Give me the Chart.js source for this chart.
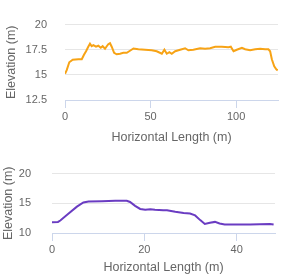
<!DOCTYPE html>
<html>
<head>
<meta charset="utf-8">
<script src="https://cdn.jsdelivr.net/npm/chart.js@4"></script>
<style>
  html, body { margin: 0; padding: 0; background: #fff; }
  .box { position: relative; width: 285px; }
  #topBox { height: 146px; }
  #bottomBox { height: 134px; }
</style>
</head>
<body>
<div class="box" id="topBox"><canvas id="topChart"></canvas></div>
<div class="box" id="bottomBox"><canvas id="bottomChart"></canvas></div>
<script>
// profile 1 (orange)
const topX = [0, 1, 2.5, 4.5, 7.8, 9.8, 11.1, 12.3, 13.6, 14.6, 15.6, 16.6, 18.1, 19.5, 20.9, 22, 23.4, 24.4, 25.3, 26.3, 27.3, 28.7, 30.2, 32.2, 34.1, 36.1, 38, 40, 42.9, 46.8, 50.7, 53.6, 56.6, 58.1, 59.5, 61, 62.4, 64.4, 67.3, 70.2, 72.1, 75, 79, 81.9, 84.8, 87.8, 91.7, 95.5, 96.9, 98.5, 100.4, 103.4, 105.3, 108.2, 111.2, 114.1, 117, 118.9, 119.9, 120.9, 122.3, 123.5, 124.3];
const topY = [15.1, 15.47, 16.25, 16.5, 16.55, 16.55, 17.0, 17.35, 17.8, 18.1, 17.85, 17.95, 17.8, 17.9, 17.7, 17.85, 17.6, 17.85, 18.05, 18.15, 17.8, 17.2, 17.05, 17.1, 17.2, 17.2, 17.4, 17.62, 17.55, 17.5, 17.45, 17.35, 17.1, 17.5, 17.1, 17.25, 17.1, 17.35, 17.5, 17.65, 17.45, 17.5, 17.65, 17.6, 17.65, 17.8, 17.8, 17.75, 17.8, 17.35, 17.5, 17.7, 17.55, 17.45, 17.55, 17.6, 17.55, 17.55, 17.35, 16.55, 15.85, 15.55, 15.45];

// profile 2 (purple)
const bottomX = [0, 1.3, 1.8, 3.6, 5.4, 6.8, 7.9, 10.8, 13.7, 16.2, 16.9, 18.0, 19.1, 20.2, 21.3, 22.3, 24.1, 24.9, 26.7, 28.5, 29.9, 31.0, 32.1, 33.1, 34.2, 35.3, 36.3, 37.4, 40, 42.9, 45, 47.2, 48];
const bottomY = [11.83, 11.87, 12.1, 13.27, 14.44, 15.13, 15.3, 15.35, 15.43, 15.43, 15.22, 14.57, 14.05, 13.92, 14.0, 13.92, 13.85, 13.83, 13.57, 13.35, 13.27, 12.96, 12.17, 11.52, 11.74, 11.87, 11.61, 11.44, 11.44, 11.44, 11.48, 11.52, 11.44];

const topTicks = { xStep: 50, yMin: 12.5, yMax: 20, yStep: 2.5 };
const bottomTicks = { xStep: 20, yMin: 10, yMax: 20, yStep: 5 };

const FONT = "'Liberation Sans', Arial, sans-serif";
const TEXT = "#666666";

const toPoints = (xs, ys) => xs.map((x, i) => ({ x: x, y: ys[i] }));

const makeChart = (el, xs, ys, color, t, lay) => {
  new Chart(el, {
    type: "line",
    data: {
      datasets: [{
        data: toPoints(xs, ys),
        borderColor: color,
        borderWidth: 2,
        pointRadius: 0,
        tension: 0,
        fill: false
      }]
    },
    options: {
      animation: false,
      responsive: true,
      maintainAspectRatio: false,
      devicePixelRatio: 1,
      layout: { padding: { top: lay.top, right: lay.right, bottom: 0, left: 0 } },
      plugins: { legend: { display: false }, tooltip: { enabled: false } },
      scales: {
        x: {
          type: "linear",
          min: 0,
          max: lay.xMax,
          afterFit: (s) => { s.height = lay.xHeight; },
          border: { color: "#ccd6eb" },
          grid: { drawOnChartArea: false, color: "#ccd6eb", tickLength: 8 },
          ticks: { stepSize: t.xStep, includeBounds: false, padding: 2, color: TEXT, font: { family: FONT, size: 11 }, maxRotation: 0 },
          title: { display: true, text: "Horizontal Length (m)", color: TEXT, font: { family: FONT, size: 12.5 }, padding: { top: 4, bottom: lay.titlePad } }
        },
        y: {
          min: t.yMin,
          max: t.yMax,
          afterFit: (s) => { s.width = lay.yWidth; },
          border: { display: false },
          grid: { color: "#e6e6e6", drawTicks: false },
          ticks: { stepSize: t.yStep, padding: lay.yPad, color: TEXT, font: { family: FONT, size: 11 }, callback: (v) => String(v) },
          title: { display: true, text: "Elevation (m)", color: TEXT, font: { family: FONT, size: 12.5 }, padding: { top: lay.yTitlePad, bottom: 0 } }
        }
      }
    }
  });
};

makeChart(document.querySelector("#topChart"), topX, topY, "#f7a315", topTicks,
  { top: 21, right: 7, xHeight: 46, titlePad: 1, yWidth: 65, yPad: 18, yTitlePad: 4, xMax: 124.5 });
makeChart(document.querySelector("#bottomChart"), bottomX, bottomY, "#6a3cc2", bottomTicks,
  { top: 8, right: 10, xHeight: 47, titlePad: 5, yWidth: 52, yPad: 21, yTitlePad: 1, xMax: 48.3 });
</script>
</body>
</html>
